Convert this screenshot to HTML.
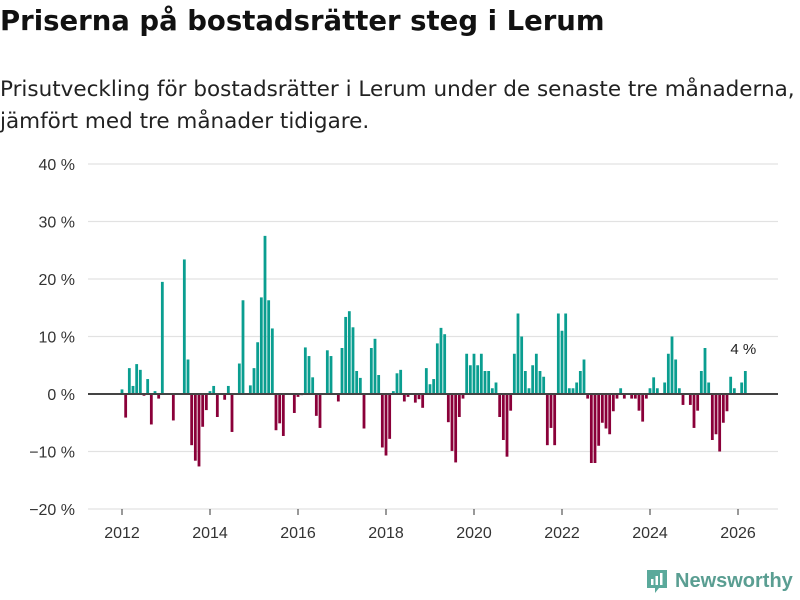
<!DOCTYPE html>
<html><head><meta charset="utf-8"><style>
body{margin:0;width:800px;height:600px;background:#fff;font-family:"Liberation Sans",sans-serif;overflow:hidden;position:relative}
h1{position:absolute;left:0;top:5px;margin:0;font-family:"DejaVu Sans",sans-serif;font-size:27.5px;font-weight:bold;color:#111;white-space:nowrap}
.sub{position:absolute;left:0;top:74px;margin:0;font-family:"DejaVu Sans",sans-serif;font-size:21.5px;line-height:32px;color:#222;white-space:nowrap}
</style></head><body>
<h1>Priserna på bostadsrätter steg i Lerum</h1>
<p class="sub">Prisutveckling för bostadsrätter i Lerum under de senaste tre månaderna,<br>jämfört med tre månader tidigare.</p>
<svg id="chart" width="800" height="600" style="position:absolute;left:0;top:0"></svg>
<div style="position:absolute;left:645px;top:568px;display:flex;align-items:center;gap:6px">
<svg width="24" height="26" viewBox="0 0 24 26"><path d="M2 2h20v18h-8l-4 5v-5H2z" fill="#5aa99b"/><rect x="6" y="11" width="2.5" height="6" fill="#fff"/><rect x="10.5" y="8" width="2.5" height="9" fill="#fff"/><rect x="15" y="5" width="2.5" height="12" fill="#fff"/></svg>
<span style="font-size:20px;font-weight:bold;color:#5a9e92">Newsworthy</span></div>
<script>
const startYear = 2012;
const values = [0.8,-4.1,4.5,1.4,5.2,4.2,-0.3,2.6,-5.3,0.5,-0.8,19.5,0,0,-4.6,0,0,23.4,6,-8.9,-11.6,-12.6,-5.7,-2.8,0.5,1.4,-4,0,-1,1.4,-6.6,0,5.3,16.3,0,1.5,4.5,9,16.8,27.5,16.3,11.4,-6.3,-5.1,-7.3,
0,0,-3.3,-0.5,-0.2,8.1,6.6,2.9,-3.8,-5.9,0,7.6,6.6,0,-1.3,8,13.4,14.4,11.6,4,2.8,-6,0,8,9.6,3.3,-9.3,-10.7,-7.8,0.5,3.6,4.2,-1.3,-0.5,0,-1.5,-0.9,-2.4,4.5,1.7,2.6,8.8,11.5,10.4,-4.9,-9.9,-11.9,-4,
-0.8,7,5,7,5,7,4,4,1,2,-4,-8,-10.9,-2.9,7,14,10,4,1,5,7,4,3,-8.9,-5.9,-8.9,14,11,14,1,1,2,4,6,-0.8,-12,-12,-9,-5,-6,-7,-3,-0.8,1,-0.8,
0,-0.8,-0.8,-2.9,-4.8,-0.8,1,2.9,1,0,2,7,10,6,1,-1.9,0,-1.9,-5.9,-2.9,4,8,2,-8,-7,-10,-5,-3,3,1,0,2,4];
const yTicks = [-20,-10,0,10,20,30,40];
const yTickLabels = ["−20 %","−10 %","0 %","10 %","20 %","30 %","40 %"];
const xTickYears = [2012,2014,2016,2018,2020,2022,2024,2026];
const lastLabel = "4 %";
const NS="http://www.w3.org/2000/svg";
const svg=document.getElementById('chart');
const y=v=>394 - v*5.75;
const x=m=>122 + m*44/12;
function mk(t,a){const e=document.createElementNS(NS,t);for(const k in a)e.setAttribute(k,a[k]);svg.appendChild(e);return e;}
yTicks.forEach((t,i)=>{
 if(t!==0){const g=mk('line',{x1:88,x2:778,y1:y(t),y2:y(t),stroke:'#e2e2e2','stroke-width':1.3});
 
 }
 const l=mk('text',{x:75,y:y(t)+6,'text-anchor':'end','font-size':16,fill:'#333','font-family':'Liberation Sans'});
 
 
 l.textContent=yTickLabels[i];
});
xTickYears.forEach(yr=>{
 const m=(yr-startYear)*12;
 const tk=mk('line',{x1:x(m),x2:x(m),y1:509,y2:515,stroke:'#333','stroke-width':1});
 
 
 const l=mk('text',{x:x(m),y:538,'text-anchor':'middle','font-size':16,fill:'#333','font-family':'Liberation Sans'});
 
 
 l.textContent=yr;
});
values.forEach((v,i)=>{
 const b=mk('rect',{x:x(i)-1.4,width:2.8,y:Math.min(y(v),y(0)),height:Math.abs(y(v)-y(0)),fill:v>=0?'#0a9e90':'#8a0039'});
 
 
});
const z=mk('line',{x1:88,x2:778,y1:y(0),y2:y(0),stroke:'#444','stroke-width':2});


const li=values.length-1;
const lab=mk('text',{x:x(li)-2,y:y(values[li])-17,'text-anchor':'middle','font-size':15,fill:'#222','font-family':'Liberation Sans'});


lab.textContent=lastLabel;
</script>
</body></html>
